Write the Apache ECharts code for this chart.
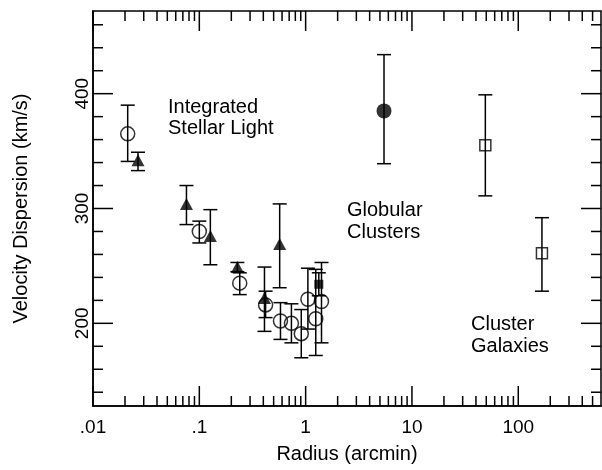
<!DOCTYPE html>
<html><head><meta charset="utf-8">
<script src="https://cdn.jsdelivr.net/npm/echarts@6/dist/echarts.min.js"></script>
<style>html,body{margin:0;padding:0;background:#fff}#c{width:602px;height:470px}</style>
</head><body><div id="c"></div>
<script>
// ---- Data ----
// Integrated stellar light: open circles
const circleX  = [0.0212, 0.1, 0.24, 0.42, 0.58, 0.735, 0.91, 1.05, 1.245, 1.41];
const circleY  = [365, 280, 235, 216, 202, 200, 191, 221, 204, 219];
const circleHi = [390, 289, 244, 228, 218, 217, 212, 248, 247, 253];
const circleLo = [341, 270, 225, 205, 186, 183, 170, 195, 172, 183];
// Integrated stellar light: filled triangles
const triX  = [0.0265, 0.0757, 0.127, 0.228, 0.41, 0.57];
const triY  = [342, 304, 276, 249, 222, 269];
const triHi = [349, 320, 299, 253, 249, 304];
const triLo = [333, 286, 251, 245, 193, 231];
// filled square
const sqX = [1.33], sqY = [234], sqHi = [244], sqLo = [224];
// Globular clusters: big filled circle
const gcX = [5.46], gcY = [385], gcHi = [434], gcLo = [339];
// Cluster galaxies: open squares
const cgX = [49, 167], cgY = [355, 261], cgHi = [399, 292], cgLo = [311, 228];

// axis ticks
const xMajorTicks = [0.01, 0.1, 1, 10, 100];
const xMinorTicks = [0.02,0.03,0.04,0.05,0.06,0.07,0.08,0.09,
                     0.2,0.3,0.4,0.5,0.6,0.7,0.8,0.9,
                     2,3,4,5,6,7,8,9,
                     20,30,40,50,60,70,80,90,
                     200,300,400,500];
const yMajorTicks = [200, 300, 400];
const yMinorTicks = [140,160,180,220,240,260,280,320,340,360,380,420,440,460];
const xTickLabels = {'0.01':'.01','0.1':'.1','1':'1','10':'10','100':'100'};

const X_MIN = 0.01, X_MAX = 600, Y_MIN = 128, Y_MAX = 472;
const FONT = '"Liberation Sans", Arial, Helvetica, sans-serif';
const LW = 1.5;

function pts(xs, ys){ return xs.map((x,i)=>[x, ys[i]]); }
function errData(xs, ys, hi, lo){ return xs.map((x,i)=>[x, ys[i], hi[i], lo[i]]); }

function errorSeries(data){
  return {
    type:'custom', silent:true, z:2, data,
    encode:{x:0, y:[1,2,3]},
    renderItem(params, api){
      const x = api.value(0);
      const t = api.coord([x, api.value(2)]);
      const b = api.coord([x, api.value(3)]);
      const hw = 7;
      const st = {stroke:'#000', lineWidth:LW};
      return {type:'group', children:[
        {type:'line', shape:{x1:t[0], y1:t[1], x2:b[0], y2:b[1]}, style:st},
        {type:'line', shape:{x1:t[0]-hw, y1:t[1], x2:t[0]+hw, y2:t[1]}, style:st},
        {type:'line', shape:{x1:b[0]-hw, y1:b[1], x2:b[0]+hw, y2:b[1]}, style:st}
      ]};
    }
  };
}

const xTickData = xMajorTicks.map(v=>[v, Y_MIN, 1]).concat(xMinorTicks.map(v=>[v, Y_MIN, 0]));
const yTickData = yMajorTicks.map(v=>[X_MIN, v, 1]).concat(yMinorTicks.map(v=>[X_MIN, v, 0]));

const xTickSeries = {
  type:'custom', silent:true, z:5, data:xTickData, encode:{x:0, y:1},
  renderItem(params, api){
    const x = api.value(0);
    const len = api.value(2) ? 20 : 10;
    const b = api.coord([x, Y_MIN]);
    const t = api.coord([x, Y_MAX]);
    const st = {stroke:'#000', lineWidth:LW};
    return {type:'group', children:[
      {type:'line', shape:{x1:b[0], y1:b[1], x2:b[0], y2:b[1]-len}, style:st},
      {type:'line', shape:{x1:t[0], y1:t[1], x2:t[0], y2:t[1]+len}, style:st}
    ]};
  }
};
const yTickSeries = {
  type:'custom', silent:true, z:5, data:yTickData, encode:{x:0, y:1},
  renderItem(params, api){
    const y = api.value(1);
    const len = api.value(2) ? 20 : 10;
    const l = api.coord([X_MIN, y]);
    const r = api.coord([X_MAX, y]);
    const st = {stroke:'#000', lineWidth:LW};
    return {type:'group', children:[
      {type:'line', shape:{x1:l[0], y1:l[1], x2:l[0]+len, y2:l[1]}, style:st},
      {type:'line', shape:{x1:r[0], y1:r[1], x2:r[0]-len, y2:r[1]}, style:st}
    ]};
  }
};

const openStyle = {color:'rgba(255,255,255,0)', borderColor:'#000', borderWidth:LW};
const fillStyle = {color:'#000', borderColor:'#000', borderWidth:0};

const option = {
  animation:false,
  backgroundColor:'#fff',
  grid:{left:93, right:1, top:11, bottom:64, show:true, borderColor:'#000', borderWidth:LW, backgroundColor:'transparent'},
  xAxis:{
    type:'log', logBase:10, min:X_MIN, max:X_MAX,
    axisLine:{show:true, lineStyle:{color:'#000', width:LW}},
    axisTick:{show:false}, splitLine:{show:false}, minorTick:{show:false},
    axisLabel:{color:'#000', fontSize:19, fontFamily:FONT, margin:12, showMinLabel:true, showMaxLabel:false,
      formatter:(v)=>{ const k = String(+Number(v).toPrecision(3)); return xTickLabels[k] !== undefined ? xTickLabels[k] : ''; }},
    name:'Radius (arcmin)', nameLocation:'middle', nameGap:38,
    nameTextStyle:{color:'#000', fontSize:20, fontFamily:FONT}
  },
  yAxis:{
    type:'value', min:Y_MIN, max:Y_MAX,
    axisLine:{show:true, lineStyle:{color:'#000', width:LW}},
    axisTick:{show:false}, splitLine:{show:false},
    axisLabel:{color:'#000', fontSize:19, fontFamily:FONT, rotate:90, margin:1, customValues:yMajorTicks},
    name:'Velocity Dispersion (km/s)', nameLocation:'middle', nameGap:62, nameRotate:90,
    nameTextStyle:{color:'#000', fontSize:20, fontFamily:FONT}
  },
  graphic:[
    {type:'text', left:168, top:97, style:{text:'Integrated\nStellar Light', font:'20px '+FONT, fill:'#000', lineHeight:21}},
    {type:'text', left:347, top:199, style:{text:'Globular\nClusters', font:'20px '+FONT, fill:'#000', lineHeight:22}},
    {type:'text', left:471, top:313, style:{text:'Cluster\nGalaxies', font:'20px '+FONT, fill:'#000', lineHeight:22}}
  ],
  series:[
    xTickSeries, yTickSeries,
    errorSeries(errData(circleX, circleY, circleHi, circleLo)),
    errorSeries(errData(triX, triY, triHi, triLo)),
    errorSeries(errData(sqX, sqY, sqHi, sqLo)),
    errorSeries(errData(gcX, gcY, gcHi, gcLo)),
    errorSeries(errData(cgX, cgY, cgHi, cgLo)),
    {type:'scatter', z:4, symbol:'circle', symbolSize:14, itemStyle:openStyle, data:pts(circleX, circleY)},
    {type:'scatter', z:4, symbol:'triangle', symbolSize:[13,12], itemStyle:fillStyle, data:pts(triX, triY)},
    {type:'scatter', z:4, symbol:'rect', symbolSize:9, itemStyle:fillStyle, data:pts(sqX, sqY)},
    {type:'scatter', z:4, symbol:'circle', symbolSize:15, itemStyle:fillStyle, data:pts(gcX, gcY)},
    {type:'scatter', z:4, symbol:'rect', symbolSize:11, itemStyle:openStyle, data:pts(cgX, cgY)}
  ]
};
const chart = echarts.init(document.getElementById('c'));
chart.setOption(option);
</script>
</body></html>
